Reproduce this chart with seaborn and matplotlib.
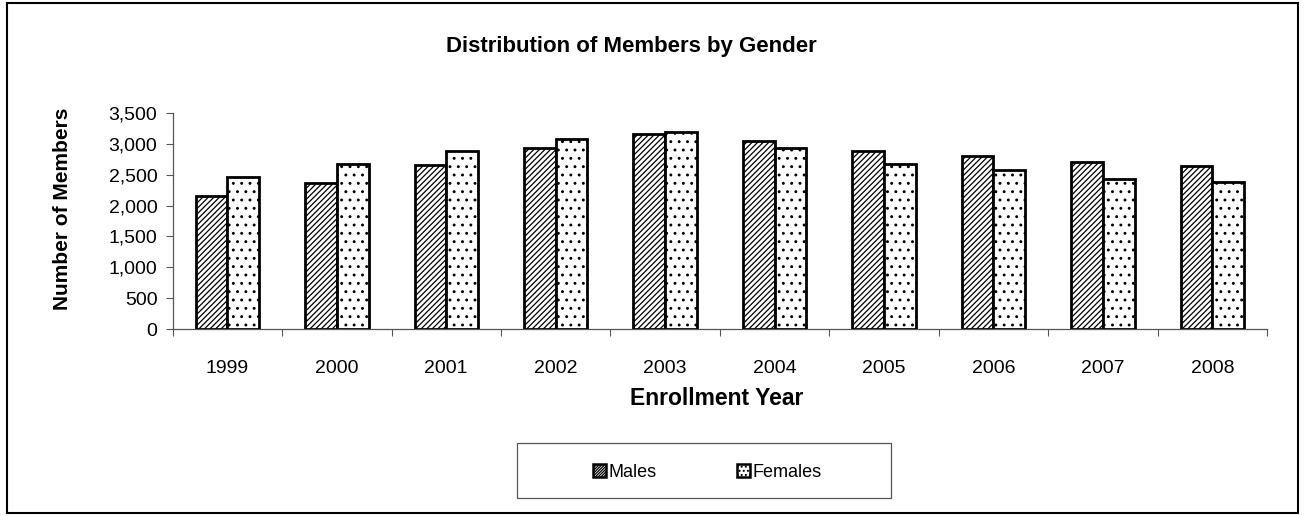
import matplotlib
matplotlib.use('Agg')
from matplotlib import pyplot as plt
from matplotlib.patches import Patch, Rectangle
from matplotlib.ticker import FuncFormatter, FixedLocator
import pandas as pd
import seaborn as sns

years = ['1999', '2000', '2001', '2002', '2003', '2004', '2005', '2006', '2007', '2008']
males = [2160, 2370, 2650, 2930, 3160, 3040, 2880, 2800, 2700, 2640]
females = [2470, 2680, 2880, 3080, 3190, 2940, 2680, 2570, 2430, 2380]
genders = ['Males', 'Females']

df = pd.DataFrame({
    'Year': years + years,
    'Members': males + females,
    'Gender': ['Males'] * len(years) + ['Females'] * len(years),
})

sns.set_style('white')
plt.rcParams['font.family'] = ['Liberation Sans', 'DejaVu Sans']
plt.rcParams['hatch.linewidth'] = 0.9
plt.rcParams['text.color'] = 'black'
plt.rcParams['xtick.color'] = 'black'
plt.rcParams['ytick.color'] = 'black'

fig = plt.figure(figsize=(13.05, 5.16), dpi=100)
ax = fig.add_axes([0.1323, 0.3624, 0.8386, 0.4186])

sns.barplot(data=df, x='Year', y='Members', hue='Gender', hue_order=genders,
            palette=['white', 'white'], edgecolor='black', linewidth=2.0,
            width=0.58, gap=0, saturation=1, legend=False, ax=ax)

hatches = ['//////', '..']
for cont, h in zip(ax.containers, hatches):
    for bar in cont:
        bar.set_hatch(h)

ax.set_ylim(0, 3500)
ax.set_xlim(-0.5, len(years) - 0.5)
ax.set_yticks(range(0, 3501, 500))
ax.yaxis.set_major_formatter(FuncFormatter(lambda v, p: f'{int(v):,}'))
ax.tick_params(axis='y', which='major', direction='out', length=5, width=0.8,
               color='#555555', labelcolor='black', labelsize=14, pad=6, left=True)
ax.tick_params(axis='x', which='major', length=0, labelcolor='black', labelsize=14, pad=22)
ax.xaxis.set_minor_locator(FixedLocator([i - 0.5 for i in range(len(years) + 1)]))
ax.tick_params(axis='x', which='minor', direction='out', length=5, width=0.8,
               color='#555555', bottom=True)
ax.set_xlabel('')
ax.set_ylabel('')

for s in ['top', 'right']:
    ax.spines[s].set_visible(False)
for s in ['left', 'bottom']:
    ax.spines[s].set_color('#555555')
    ax.spines[s].set_linewidth(0.9)

fig.text(0.484, 0.909, 'Distribution of Members by Gender', ha='center', va='center',
         fontsize=16, fontweight='bold', color='black')
fig.text(0.048, 0.595, 'Number of Members', ha='center', va='center', rotation=90,
         fontsize=15, fontweight='bold', color='black')
fig.text(0.549, 0.227, 'Enrollment Year', ha='center', va='center',
         fontsize=16.5, fontweight='bold', color='black')

# legend: entries without frame, box drawn separately (wider than the entries)
handles = [Patch(facecolor='white', edgecolor='black', hatch=h * 2, linewidth=1.8)
           for h in hatches]
leg = fig.legend(handles, genders, loc='center', bbox_to_anchor=(0.542, 0.085),
                 ncol=2, frameon=False, fontsize=13,
                 handlelength=0.75, handleheight=0.75, handletextpad=0.15,
                 columnspacing=4.4, borderaxespad=0)
for t in leg.get_texts():
    t.set_color('black')
fig.patches.append(Rectangle((0.3962, 0.0349), 0.2866, 0.1066, transform=fig.transFigure,
                             fill=False, edgecolor='#555555', linewidth=0.9))

fig.patches.append(Rectangle((0.005, 0.006), 0.99, 0.988, transform=fig.transFigure,
                             fill=False, edgecolor='black', linewidth=1.5))

plt.savefig('out.png', dpi=100)
